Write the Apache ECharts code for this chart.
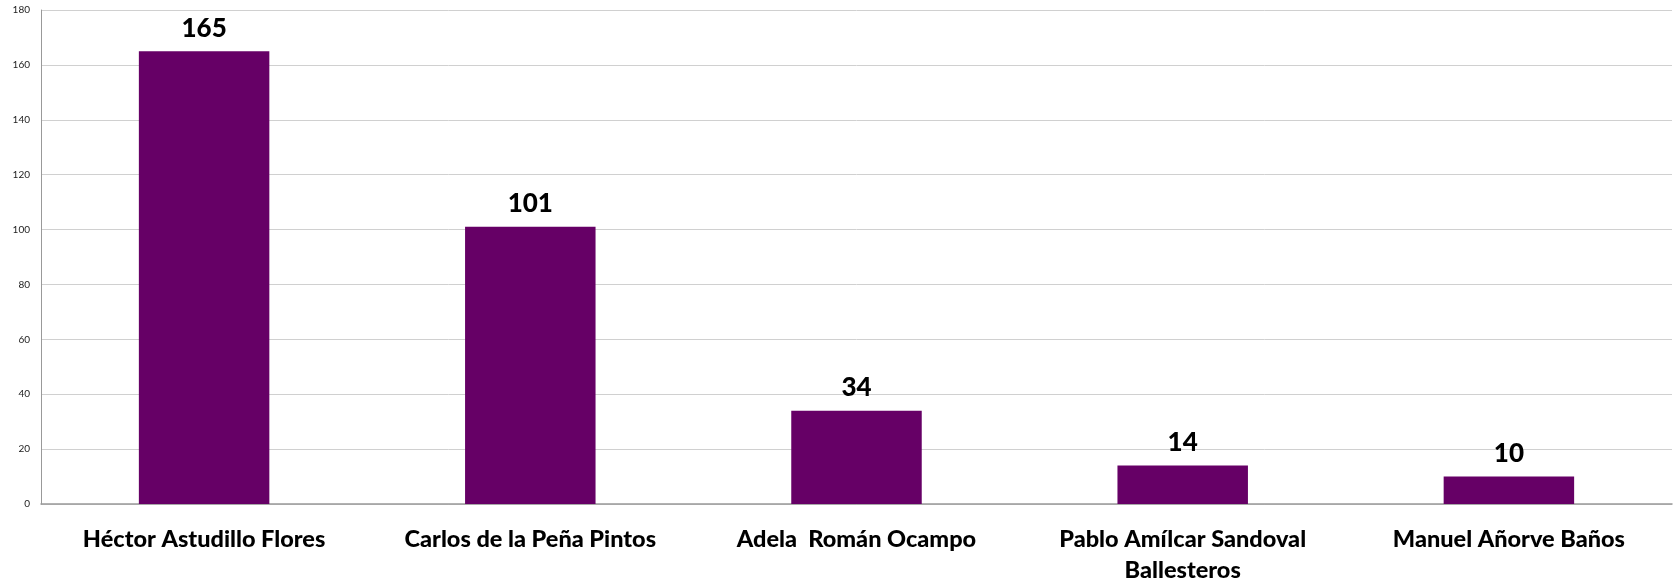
<!DOCTYPE html>
<html><head><meta charset="utf-8">
<script src="https://cdn.jsdelivr.net/npm/echarts@6/dist/echarts.min.js"></script>
<style>html,body{margin:0;padding:0;background:#fff}#c{width:1675px;height:581px}</style>
</head><body><div id="c"></div>
<script>
const categories = ["Héctor Astudillo Flores", "Carlos de la Peña Pintos", "Adela  Román Ocampo", "Pablo Amílcar Sandoval\nBallesteros", "Manuel Añorve Baños"];
const votes = [165, 101, 34, 14, 10];
const yTicks = { min: 0, max: 180, interval: 20 };

const chart = echarts.init(document.getElementById('c'), null, { renderer: 'canvas' });
chart.setOption({
  animation: false,
  grid: { left: 41, right: 3, top: 10, bottom: 77, containLabel: false, outerBoundsMode: 'none' },
  xAxis: {
    type: 'category',
    data: categories,
    axisLine: { lineStyle: { color: '#999', width: 1.5 } },
    axisTick: { show: false },
    axisLabel: {
      margin: 20,
      fontFamily: 'Lato',
      fontWeight: 900,
      fontSize: 23.5,
      color: '#000',
      lineHeight: 31,
      interval: 0
    }
  },
  yAxis: {
    type: 'value',
    min: yTicks.min, max: yTicks.max, interval: yTicks.interval,
    axisLine: { show: true, lineStyle: { color: '#999', width: 1 } },
    axisTick: { show: false },
    splitLine: { lineStyle: { color: '#d0d0d0', width: 1 } },
    axisLabel: { fontFamily: 'Lato', fontSize: 10, color: '#222', margin: 11 }
  },
  series: [{
    type: 'bar',
    data: votes,
    barWidth: '40%',
    itemStyle: { color: '#660066' },
    label: {
      show: true,
      position: 'top',
      distance: 10,
      fontFamily: 'Lato',
      fontWeight: 900,
      fontSize: 26,
      color: '#000'
    }
  }]
});
</script></body></html>
